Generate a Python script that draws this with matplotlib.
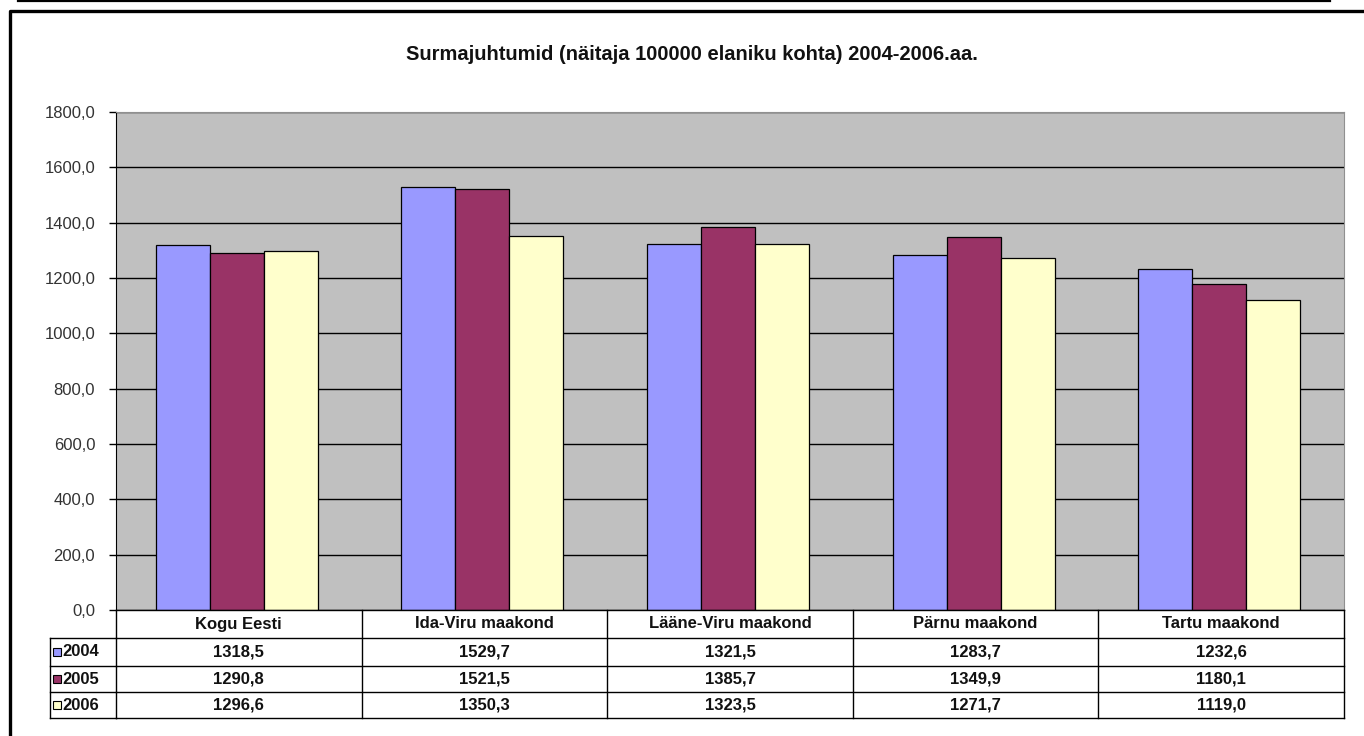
import matplotlib.pyplot as plt
import numpy as np

# data
categories = ['Kogu Eesti', 'Ida-Viru maakond', 'Lääne-Viru maakond',
              'Pärnu maakond', 'Tartu maakond']
years = ['2004', '2005', '2006']
v2004 = [1318.5, 1529.7, 1321.5, 1283.7, 1232.6]
v2005 = [1290.8, 1521.5, 1385.7, 1349.9, 1180.1]
v2006 = [1296.6, 1350.3, 1323.5, 1271.7, 1119.0]
colors = ['#9999FF', '#993366', '#FFFFCC']
title = 'Surmajuhtumid (näitaja 100000 elaniku kohta) 2004-2006.aa.'

plt.rcParams['font.family'] = ['Liberation Sans', 'DejaVu Sans']

W, H = 1364, 736
fig = plt.figure(figsize=(W / 100, H / 100), dpi=100)


def px_rect(x0, y0, x1, y1):
    # pixel box (top-left origin) -> figure fraction
    return [x0 / W, 1 - y1 / H, (x1 - x0) / W, (y1 - y0) / H]


def fmt(v):
    return ('%.1f' % v).replace('.', ',')


# outer decoration
fig.add_artist(plt.Line2D([18 / W, 1330 / W], [1 - 1 / H, 1 - 1 / H],
                          color='black', lw=1.6))
fig.add_artist(plt.Line2D([10 / W, 10 / W, 1],
                          [0, 1 - 11 / H, 1 - 11 / H],
                          color='black', lw=2.4))

fig.text(692 / W, 1 - 54 / H, title, ha='center', va='center',
         fontsize=14.5, fontweight='bold', color='#111111')

# bar chart
ax = fig.add_axes(px_rect(116, 112, 1344, 610))
ax.set_facecolor('#C0C0C0')
x = np.arange(len(categories)) + 0.5
bw = 0.22
for k, vals in enumerate([v2004, v2005, v2006]):
    ax.bar(x + (k - 1) * bw - 0.008, vals, width=bw, color=colors[k],
           edgecolor='black', linewidth=0.9, zorder=3)
ax.set_xlim(0, 5)
ax.set_ylim(0, 1800)
yt = np.arange(0, 1801, 200)
ax.set_yticks(yt)
ax.set_yticklabels([fmt(v) for v in yt], fontsize=12, color='#333333')
ax.set_xticks([])
ax.yaxis.grid(True, color='black', lw=1.0, zorder=0)
ax.tick_params(axis='y', length=5, width=1, pad=10, color='black')
ax.spines['left'].set_color('black')
ax.spines['top'].set_color('#909090')
ax.spines['right'].set_color('#909090')
ax.spines['bottom'].set_visible(False)

# data table under the chart
tab = fig.add_axes(px_rect(116, 610, 1344, 719))
tab.set_xlim(0, 5)
tab.set_ylim(109, 0)
tab.axis('off')
rows = [0, 28, 56, 82, 108]
lk = dict(color='black', lw=1.0, clip_on=False)
for r in rows:
    tab.plot([0, 5], [r, r], **lk)
for c in range(6):
    tab.plot([c, c], [0, 108], **lk)
leg_x = -66 / 245.6
for r in rows[1:]:
    tab.plot([leg_x, 0], [r, r], **lk)
tab.plot([leg_x, leg_x], [rows[1], rows[-1]], **lk)
for i, name in enumerate(categories):
    tab.text(i + 0.5, 14, name, ha='center', va='center',
             fontsize=12, fontweight='bold', color='#111111')
for k, vals in enumerate([v2004, v2005, v2006]):
    yc = (rows[k + 1] + rows[k + 2]) / 2
    for i, v in enumerate(vals):
        tab.text(i + 0.5, yc, fmt(v), ha='center', va='center',
                 fontsize=12, fontweight='bold', color='#111111')
    tab.add_patch(plt.Rectangle((leg_x + 3 / 245.6, yc - 4), 8 / 245.6, 8,
                                facecolor=colors[k], edgecolor='black',
                                lw=0.8, clip_on=False))
    tab.text(leg_x + 12 / 245.6, yc, years[k], ha='left', va='center',
             fontsize=12, fontweight='bold', color='#111111')

fig.savefig('out.png', dpi=100)
